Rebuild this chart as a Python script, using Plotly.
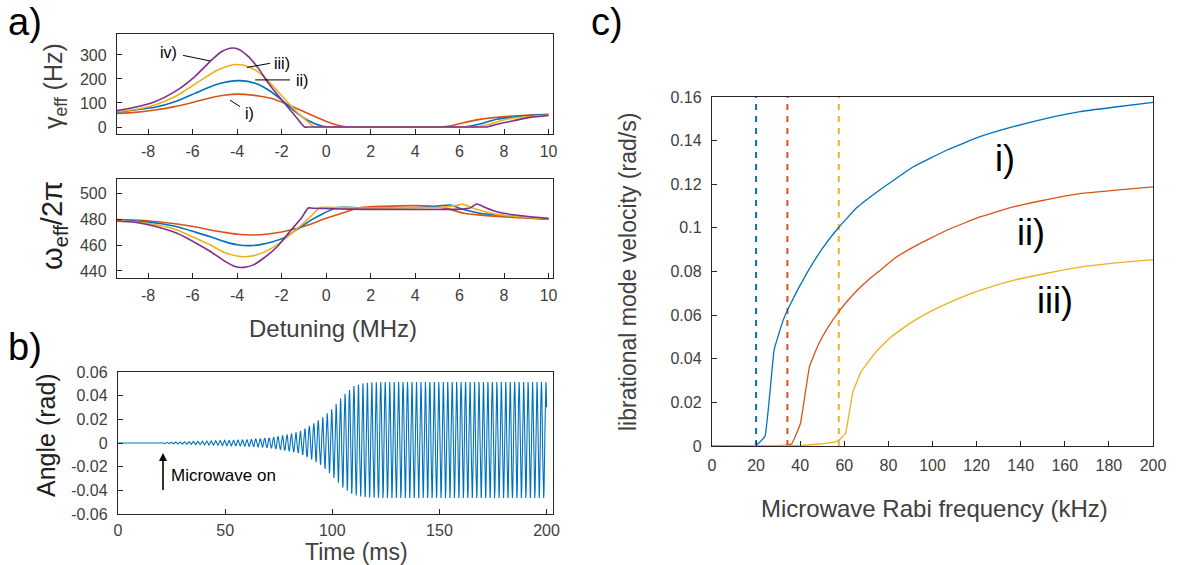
import numpy as np
import plotly.graph_objects as go

W, H = 1180, 565
FONT = "Liberation Sans"
AXC = "#262626"
TXT = "#404040"
BLUE, RED, YELLOW, PURPLE = "#0072BD", "#D95319", "#EDB120", "#7E2F8E"

# ---- panel a (top): effective damping rate gamma_eff vs detuning ----
g_red_x = [-9.4, -8.6, -7.7, -6.8, -5.9, -5.0, -4.24, -3.64, -3.04, -2.44, -1.84, -1.24, -0.49, 0.26, 0.75, 1.2, 1.35,
           4.95, 5.1, 5.6, 6.17, 6.92, 7.67, 8.42, 9.17, 10.0]
g_red_y = [57, 61, 71, 85, 105, 126, 136, 136, 129, 119, 98, 74, 43, 15, 3, 0, 0,
           0, 0, 5, 18, 32, 40, 46, 50, 53]
g_blue_x = [-9.4, -8.6, -7.7, -6.8, -5.9, -5.0, -4.4, -3.87, -3.19, -2.59, -1.99, -1.39, -0.79, -0.19, 0.15, 0.3,
            6.02, 6.17, 6.55, 6.92, 7.67, 8.42, 9.17, 10.0]
g_blue_y = [62, 71, 82, 105, 140, 175, 189, 193, 182, 154, 112, 64, 26, 4, 0, 0,
            0, 0, 5, 12.5, 32, 42, 48, 52]
g_yel_x = [-9.4, -8.6, -7.7, -6.8, -5.9, -5.0, -4.4, -4.01, -3.49, -2.89, -2.29, -1.69, -1.09, -0.52, -0.37,
           6.62, 6.77, 7.37, 7.97, 8.72, 10.0]
g_yel_y = [64, 73, 92, 126, 178, 231, 254, 260, 251, 217, 161, 99, 43, 0, 0,
           0, 0, 12.5, 29, 40, 50]
g_pur_x = [-9.4, -8.6, -7.7, -6.8, -5.9, -5.14, -4.69, -4.31, -3.94, -3.49, -3.04, -2.59, -1.99, -1.39, -0.97, -0.82,
           7.04, 7.19, 7.82, 8.42, 9.17, 10.0]
g_pur_y = [68, 82, 105, 147, 210, 279, 314, 328, 324, 293, 244, 182, 112, 46, 0, 0,
           0, 0, 15, 26, 40, 48]

# ---- panel a (bottom): effective frequency omega_eff/2pi vs detuning ----
w_red_x = [-9.4, -8.2, -6.7, -5.9, -5.2, -4.6, -4.0, -3.3, -2.6, -2.0, -1.6, -0.7, 0.0, 0.8, 1.5, 2.5, 4.7, 5.5, 6.2,
           7.2, 8.4, 10.0]
w_red_y = [479.6, 478.8, 476.2, 474.0, 471.5, 469.8, 468.3, 467.7, 468.5, 470.0, 471.5, 476.0, 480.5, 485.0, 488.7,
           489.8, 490.0, 487.8, 484.4, 482.6, 481.3, 479.8]
w_blue_x = [-9.4, -8.2, -7.4, -6.7, -5.9, -5.2, -4.6, -4.0, -3.4, -2.9, -2.4, -1.9, -1.3, -0.7, -0.1, 0.5, 1.0, 1.5,
            4.5, 5.1, 5.58, 6.0, 6.5, 6.92, 8.4, 10.0]
w_blue_y = [479.2, 478.0, 476.3, 474.0, 470.0, 466.4, 462.8, 460.2, 459.5, 460.5, 462.5, 465.5, 472.0, 479.0, 484.5,
            488.9, 489.0, 488.5, 489.0, 490.2, 490.8, 488.3, 486.0, 484.4, 482.0, 479.8]
w_yel_x = [-9.4, -8.2, -7.2, -6.7, -5.9, -5.2, -4.6, -4.0, -3.6, -3.1, -2.5, -1.9, -1.4, -1.0, -0.6, -0.3, 0.2, 1.5,
           5.2, 5.8, 6.17, 6.6, 7.0, 7.67, 8.8, 10.0]
w_yel_y = [479.0, 477.0, 474.0, 471.5, 465.5, 460.0, 454.5, 451.5, 451.0, 452.5, 457.0, 464.0, 471.0, 477.0, 483.5,
           488.7, 489.0, 488.5, 489.0, 490.3, 491.3, 488.5, 486.3, 483.6, 481.5, 480.0]
w_pur_x = [-9.4, -8.6, -7.7, -6.7, -5.8, -5.2, -4.6, -4.1, -3.7, -3.3, -2.8, -2.2, -1.6, -1.1, -0.8, -0.6, 1.0, 6.0,
           6.47, 6.78, 7.2, 7.67, 8.4, 9.17, 10.0]
w_pur_y = [478.5, 477.5, 474.5, 469.0, 461.0, 455.0, 448.0, 443.5, 442.8, 444.5, 450.0, 458.7, 471.0, 481.0, 488.5,
           488.3, 487.6, 487.6, 488.5, 491.5, 488.5, 485.6, 483.3, 481.8, 480.5]

# ---- panel b: libration angle envelope after the microwave is switched on ----
t_on = 20.0
f_lib = 0.480          # oscillation frequency in kHz (cycles per ms)
env_t = [20, 30, 40, 50, 60, 70, 80, 85, 90, 95, 100, 105, 110, 115, 120, 125, 200]
env_up = [0.0006, 0.0011, 0.0016, 0.0022, 0.0029, 0.0042, 0.0075, 0.010, 0.0150, 0.0210, 0.0290, 0.0400, 0.0480, 0.0508, 0.0514, 0.0515, 0.0515]
env_dn = [0.0006, 0.0011, 0.0016, 0.0022, 0.0029, 0.0040, 0.0070, 0.009, 0.0135, 0.0190, 0.0280, 0.0380, 0.0440, 0.0458, 0.0463, 0.0464, 0.0464]

# ---- panel c: librational mode velocity vs microwave Rabi frequency ----
v_blue_x = [0, 20, 24, 28.2, 32.3, 35.3, 42.9, 50, 57.6, 65.6, 76.2, 91.3, 106.4, 121.5, 136.6, 151.8, 166.9, 182, 200]
v_blue_y = [0, 0.0004, 0.0044, 0.0442, 0.0577, 0.0645, 0.079, 0.0905, 0.1004, 0.1092, 0.1175, 0.128, 0.1356, 0.1418, 0.1464, 0.1502, 0.1533, 0.1553, 0.1575]
v_red_x = [0, 34.3, 36.2, 40.1, 44.2, 48.1, 52.3, 57.4, 61.7, 66, 71, 76.2, 83, 91.3, 106.4, 121.5, 136.6, 151.8, 166.9, 182, 200]
v_red_y = [0, 0.0004, 0.0010, 0.0103, 0.0363, 0.0462, 0.0539, 0.0615, 0.0668, 0.0715, 0.0762, 0.0805, 0.0862, 0.0912, 0.0989, 0.105, 0.1096, 0.113, 0.1157, 0.1172, 0.1188]
v_yel_x = [0, 40.4, 47.2, 55.7, 57.4, 60.5, 63.9, 67.6, 74.4, 81.2, 89.7, 98.5, 110.1, 121.5, 136.6, 151.8, 166.9, 182, 200]
v_yel_y = [0, 0.0003, 0.0008, 0.0018, 0.0026, 0.0057, 0.0248, 0.034, 0.0432, 0.050, 0.0562, 0.0614, 0.0669, 0.0713, 0.0759, 0.0792, 0.082, 0.0838, 0.0854]
thresholds = [20.0, 34.2, 57.5]
thr_colors = [BLUE, RED, YELLOW]


def px_dom(a, b, total):
    return [a / total, b / total]


def py_dom(top, bottom):
    return [1 - bottom / H, 1 - top / H]


def axis(domain, rng, tickvals, ticktext, anchor, size=16, standoff=None):
    d = dict(domain=domain, range=rng, tickvals=tickvals, ticktext=ticktext,
             anchor=anchor, showline=True, linecolor=AXC, linewidth=1.4,
             mirror=True, ticks="inside", ticklen=5, tickwidth=1, tickcolor=AXC,
             showgrid=False, zeroline=False, automargin=False,
             tickfont=dict(family=FONT, size=size, color=TXT))
    if standoff is not None:
        d["ticklabelstandoff"] = standoff
    return d


fig = go.Figure()

# panel a top
for xs, ys, c in [(g_red_x, g_red_y, RED), (g_blue_x, g_blue_y, BLUE),
                  (g_yel_x, g_yel_y, YELLOW), (g_pur_x, g_pur_y, PURPLE)]:
    fig.add_trace(go.Scatter(x=xs, y=ys, mode="lines", line=dict(color=c, width=1.6, shape="spline", smoothing=0.6),
                             xaxis="x", yaxis="y", showlegend=False, hoverinfo="skip"))
# panel a bottom
for xs, ys, c in [(w_red_x, w_red_y, RED), (w_blue_x, w_blue_y, BLUE),
                  (w_yel_x, w_yel_y, YELLOW), (w_pur_x, w_pur_y, PURPLE)]:
    fig.add_trace(go.Scatter(x=xs, y=ys, mode="lines", line=dict(color=c, width=1.6, shape="spline", smoothing=0.6),
                             xaxis="x2", yaxis="y2", showlegend=False, hoverinfo="skip"))

# panel b trace
t = np.arange(0, 200.001, 0.02)
phase = np.sin(2 * np.pi * f_lib * (t - t_on))
up = np.interp(t, env_t, env_up)
dn = np.interp(t, env_t, env_dn)
angle = np.where(t < t_on, 0.0, np.where(phase > 0, up * phase, dn * phase))
fig.add_trace(go.Scatter(x=t, y=angle, mode="lines", line=dict(color=BLUE, width=1.1),
                         xaxis="x3", yaxis="y3", showlegend=False, hoverinfo="skip"))

# panel c curves and thresholds
for xv, c in zip(thresholds, thr_colors):
    fig.add_trace(go.Scatter(x=[xv, xv], y=[0, 0.16], mode="lines",
                             line=dict(color=c, width=2, dash="6px,6px"),
                             xaxis="x4", yaxis="y4", showlegend=False, hoverinfo="skip"))
for xs, ys, c in [(v_blue_x, v_blue_y, BLUE), (v_red_x, v_red_y, RED), (v_yel_x, v_yel_y, YELLOW)]:
    fig.add_trace(go.Scatter(x=xs, y=ys, mode="lines", line=dict(color=c, width=1.3, shape="spline", smoothing=0.3),
                             xaxis="x4", yaxis="y4", showlegend=False, hoverinfo="skip"))

det_ticks = [-8, -6, -4, -2, 0, 2, 4, 6, 8, 10]
det_text = [str(v) for v in det_ticks]

layout = dict(
    width=W, height=H, margin=dict(l=0, r=0, t=0, b=0, autoexpand=False),
    paper_bgcolor="white", plot_bgcolor="white",
    xaxis=axis(px_dom(117, 553, W), [-9.4, 10.2], det_ticks, det_text, "y", standoff=3),
    yaxis=axis(py_dom(34, 134), [-29, 387], [0, 100, 200, 300], ["0", "100", "200", "300"], "x", standoff=6),
    xaxis2=axis(px_dom(117, 553, W), [-9.4, 10.2], det_ticks, det_text, "y2", standoff=3),
    yaxis2=axis(py_dom(179, 278), [434.6, 510.8], [440, 460, 480, 500], ["440", "460", "480", "500"], "x2", standoff=6),
    xaxis3=axis(px_dom(118, 553, W), [0, 203], [0, 50, 100, 150, 200], ["0", "50", "100", "150", "200"], "y3", standoff=2),
    yaxis3=axis(py_dom(372, 514), [-0.06, 0.06], [-0.06, -0.04, -0.02, 0, 0.02, 0.04, 0.06],
                ["-0.06", "-0.04", "-0.02", "0", "0.02", "0.04", "0.06"], "x3", standoff=6),
    xaxis4=axis(px_dom(712, 1153, W), [0, 200], list(range(0, 201, 20)), [str(v) for v in range(0, 201, 20)], "y4", standoff=5),
    yaxis4=axis(py_dom(97, 446), [0, 0.16], [0, 0.02, 0.04, 0.06, 0.08, 0.1, 0.12, 0.14, 0.16],
                ["0", "0.02", "0.04", "0.06", "0.08", "0.1", "0.12", "0.14", "0.16"], "x4", standoff=6),
)
fig.update_layout(**layout)


def ptxt(x, y, text, size, color="black", angle=0):
    fig.add_annotation(x=x / W, y=1 - y / H, xref="paper", yref="paper", text=text,
                       showarrow=False, textangle=angle, xanchor="center", yanchor="middle",
                       font=dict(family=FONT, size=size, color=color))


# panel letters
ptxt(25, 22, "a)", 38)
ptxt(25, 347, "b)", 38)
ptxt(607, 22, "c)", 38)

# axis titles
ptxt(55, 86, "γ<sub>eff</sub> (Hz)", 25, TXT, -90)
ptxt(54, 226, "ω<sub>eff</sub>/2π", 29, "#202020", -90)
ptxt(333, 328, "Detuning (MHz)", 24, TXT)
ptxt(356, 552, "Time (ms)", 23, TXT)
ptxt(46, 435, "Angle (rad)", 25, "#202020", -90)
ptxt(934, 508, "Microwave Rabi frequency (kHz)", 24, TXT)
ptxt(628, 272, "librational mode velocity (rad/s)", 23, TXT, -90)

# curve labels, panel a top (text position, then leader line end points)
lbls = [("iv)", -7.1, 308, -6.43, 298, -5.22, 275),
        ("iii)", -2.0, 265, -2.52, 265, -3.56, 248),
        ("ii)", -1.1, 193, -1.62, 196, -3.19, 196),
        ("i)", -3.45, 57, -3.87, 85, -4.32, 112)]
for text, tx, ty, x0, y0, x1, y1 in lbls:
    fig.add_annotation(x=tx, y=ty, xref="x", yref="y", text=text, showarrow=False,
                       font=dict(family=FONT, size=16, color="black"))
    fig.add_shape(type="line", x0=x0, y0=y0, x1=x1, y1=y1, xref="x", yref="y",
                  line=dict(color="black", width=1))

# microwave-on marker, panel b
fig.add_annotation(x=21, y=-0.0085, ax=21, ay=-0.041, xref="x3", yref="y3", axref="x3", ayref="y3",
                   text="", showarrow=True, arrowhead=2, arrowsize=1, arrowwidth=1.6, arrowcolor="black")
fig.add_annotation(x=24.0, y=-0.0275, xref="x3", yref="y3", text="Microwave on", showarrow=False,
                   xanchor="left", font=dict(family=FONT, size=17, color="black"))

# curve labels, panel c
for text, x, y in [("i)", 132.9, 0.132), ("ii)", 144.7, 0.0981), ("iii)", 155.6, 0.0669)]:
    fig.add_annotation(x=x, y=y, xref="x4", yref="y4", text=text, showarrow=False,
                       font=dict(family=FONT, size=36, color="black"))

# page body without default spacing so the figure fills the window exactly
fig.write_html("out.html", post_script="document.body.style.margin='0';document.body.style.overflow='hidden';")
